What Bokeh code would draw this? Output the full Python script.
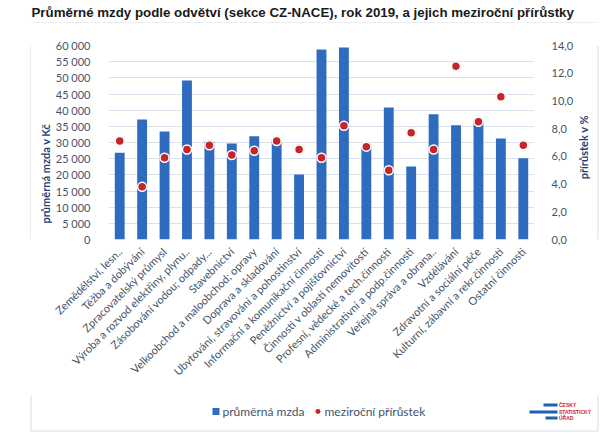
import math
from bokeh.plotting import figure
from bokeh.layouts import column, row
from bokeh.models import Range1d, LinearAxis, FixedTicker, Label, Title, ColumnDataSource
from bokeh.core.properties import value
from bokeh.embed import file_html
from bokeh.resources import INLINE

categories = [
    "Zemědělství, lesn..", "Těžba a dobývání", "Zpracovatelský průmysl",
    "Výroba a rozvod elektřiny, plynu..", "Zásobování vodou; odpady...",
    "Stavebnictví", "Velkoobchod a maloobchod; opravy", "Doprava a skladování",
    "Ubytování, stravování a pohostinství", "Informační a komunikační činnosti",
    "Peněžnictví a pojišťovnictví", "Činnosti v oblasti nemovitostí",
    "Profesní, vědecké a tech.činnosti", "Administrativní a podp.činnosti",
    "Veřejná správa a obrana..", "Vzdělávání", "Zdravotní a sociální péče",
    "Kulturní, zábavní a rekr.činnosti", "Ostatní činnosti",
]
wages = [26800, 37100, 33400, 49200, 30200, 29700, 31900, 30800, 20100, 58800,
         59400, 28700, 40800, 22600, 38700, 35300, 36300, 31200, 25100]
growth = [7.1, 3.8, 5.9, 6.5, 6.8, 6.1, 6.4, 7.1, 6.5, 5.9,
          8.2, 6.7, 5.0, 7.7, 6.5, 12.5, 8.5, 10.3, 6.8]
left_ticks = [0, 5000, 10000, 15000, 20000, 25000, 30000, 35000, 40000, 45000,
              50000, 55000, 60000]
left_tick_labels = ["0", "5 000", "10 000", "15 000", "20 000", "25 000", "30 000",
                    "35 000", "40 000", "45 000", "50 000", "55 000", "60 000"]
right_ticks = [0, 2, 4, 6, 8, 10, 12, 14]
right_tick_labels = ["0,0", "2,0", "4,0", "6,0", "8,0", "10,0", "12,0", "14,0"]
series_names = ["průměrná mzda", "meziroční přírůstek"]

title_text = "Průměrné mzdy podle odvětví (sekce CZ-NACE), rok 2019, a jejich meziroční přírůstky"
left_title = "průměrná mzda v Kč"
right_title = "přírůstek v %"

FONT = "Lato"
TICK_COLOR = "#44546A"
TITLE_BLUE = "#1F3F77"
BOX = "#D6DEE8"
BAR = "#2F6CBF"
DOT = "#C4262B"

n = len(categories)
xs = list(range(1, n + 1))

PAGE_W = 613


def strip(x0, y0, w, h):
    """A figure whose x equals page px and y equals minus page px."""
    f = figure(width=w, height=h, x_range=Range1d(x0, x0 + w), y_range=Range1d(-(y0 + h), -y0),
               output_backend="svg", toolbar_location=None,
               x_axis_location=None, y_axis_location=None, min_border=0)
    f.outline_line_color = None
    f.border_fill_color = "white"
    f.background_fill_color = "white"
    f.xgrid.visible = False
    f.ygrid.visible = False
    return f


def Y(py):
    return -py


BX0, BX1, BY0, BY1 = 30.5, 597.5, 22.5, 430.5

# ---- header (title + top of box)
header = strip(0, 0, PAGE_W, 23)
header.add_layout(Label(x=31, y=Y(12), text=title_text, text_font="Liberation Sans",
                        text_font_style="bold", text_font_size="13.3px", text_color="#1a1a1a",
                        text_baseline="middle", text_align="left"))
header.segment(x0=[BX0], y0=[Y(BY0)], x1=[BX1], y1=[Y(BY0)], line_color=BOX, line_width=1)

# ---- middle band
MID_Y0, MID_H = 23, 372
left_strip = strip(0, MID_Y0, 31, MID_H)
left_strip.segment(x0=[BX0], y0=[Y(MID_Y0)], x1=[BX0], y1=[Y(MID_Y0 + MID_H)], line_color=BOX)

MAIN_X0, MAIN_W = 31, 545
FL, FR, FT, FB = 108, 542, 45, 239
main = figure(width=MAIN_W, height=MID_H, output_backend="svg", toolbar_location=None,
              x_range=Range1d(0.5, n + 0.5), y_range=Range1d(0, 60000),
              min_border_left=FL - MAIN_X0, min_border_right=MAIN_X0 + MAIN_W - FR,
              min_border_top=FT - MID_Y0, min_border_bottom=MID_Y0 + MID_H - FB)
main.outline_line_color = None
main.border_fill_color = "white"
main.extra_y_ranges = {"pct": Range1d(0, 14)}

src = ColumnDataSource(dict(x=xs, wage=wages, growth=growth))
main.vbar(x="x", top="wage", width=0.44, source=src, fill_color=BAR, line_color=None)
main.scatter(x="x", y="growth", source=src, y_range_name="pct", size=11,
             fill_color="#8a8a8a", fill_alpha=0.22, line_color=None)
main.scatter(x="x", y="growth", source=src, y_range_name="pct", size=9,
             fill_color=DOT, line_color="white", line_width=1.5)

main.xaxis.ticker = FixedTicker(ticks=xs)
main.xaxis.major_label_overrides = {i + 1: c for i, c in enumerate(categories)}
main.xaxis.major_label_orientation = math.pi / 4
main.xaxis.major_label_standoff = 4

main.yaxis.ticker = FixedTicker(ticks=left_ticks)
main.yaxis.major_label_overrides = {t: l for t, l in zip(left_ticks, left_tick_labels)}
main.yaxis.major_label_standoff = 12

raxis = LinearAxis(y_range_name="pct", ticker=FixedTicker(ticks=right_ticks))
raxis.major_label_overrides = {t: l for t, l in zip(right_ticks, right_tick_labels)}
raxis.major_label_standoff = 11
main.add_layout(raxis, "right")

for ax in [main.xaxis[0], main.yaxis[0], raxis]:
    ax.major_label_text_font = FONT
    ax.major_label_text_font_size = "11px"
    ax.major_label_text_color = TICK_COLOR
    ax.axis_line_color = None
    ax.major_tick_line_color = None
    ax.minor_tick_line_color = None

main.xgrid.grid_line_color = None
main.ygrid.grid_line_color = "#D9E1EC"

main.add_layout(Title(text=left_title, align="left", offset=16, standoff=2,
                      text_font=FONT, text_font_style="bold", text_font_size="11px",
                      text_color=TITLE_BLUE), "left")

RS_X0 = MAIN_X0 + MAIN_W
right_strip = strip(RS_X0, MID_Y0, PAGE_W - RS_X0, MID_H)
right_strip.segment(x0=[BX1], y0=[Y(MID_Y0)], x1=[BX1], y1=[Y(MID_Y0 + MID_H)], line_color=BOX)
right_strip.add_layout(Label(x=583, y=Y(218), text=right_title, angle=math.pi / 2,
                             text_font=FONT, text_font_style="bold", text_font_size="11px",
                             text_color=TITLE_BLUE, text_align="center",
                             text_baseline="middle"))

# ---- footer (legend, logo, bottom of box)
FOOT_Y0 = MID_Y0 + MID_H
footer = strip(0, FOOT_Y0, PAGE_W, 442 - FOOT_Y0)
footer.segment(x0=[BX0, BX1, BX0], y0=[Y(FOOT_Y0), Y(FOOT_Y0), Y(BY1)],
               x1=[BX0, BX1, BX1], y1=[Y(BY1), Y(BY1), Y(BY1)], line_color=BOX)
footer.rect(x=[215.5], y=[Y(411)], width=7, height=7, fill_color=BAR, line_color=None)
footer.scatter(x=[317.5], y=[Y(411)], size=5, fill_color=DOT, line_color=None)
footer.text(x=[222, 324], y=[Y(411), Y(411)], text=series_names, text_baseline="middle",
            text_font=value(FONT), text_font_size="12px", text_color=TICK_COLOR)
LOGO_BLUE = "#1F5FAD"
footer.quad(left=[543, 529, 545], right=[557, 557, 557], top=[Y(403), Y(410), Y(416)],
            bottom=[Y(406), Y(413), Y(419)], fill_color=LOGO_BLUE, line_color=None)
footer.text(x=[558.5, 558.5, 558.5], y=[Y(404.5), Y(411.5), Y(417.5)],
            text=["ČESKÝ", "STATISTICKÝ", "ÚŘAD"], text_baseline="middle",
            text_font=value("Liberation Sans"), text_font_style="bold",
            text_font_size="5px", text_color="#C8283C")

layout = column(header, row(left_strip, main, right_strip), footer, spacing=0)
open("out.html", "w").write(file_html(layout, INLINE))
